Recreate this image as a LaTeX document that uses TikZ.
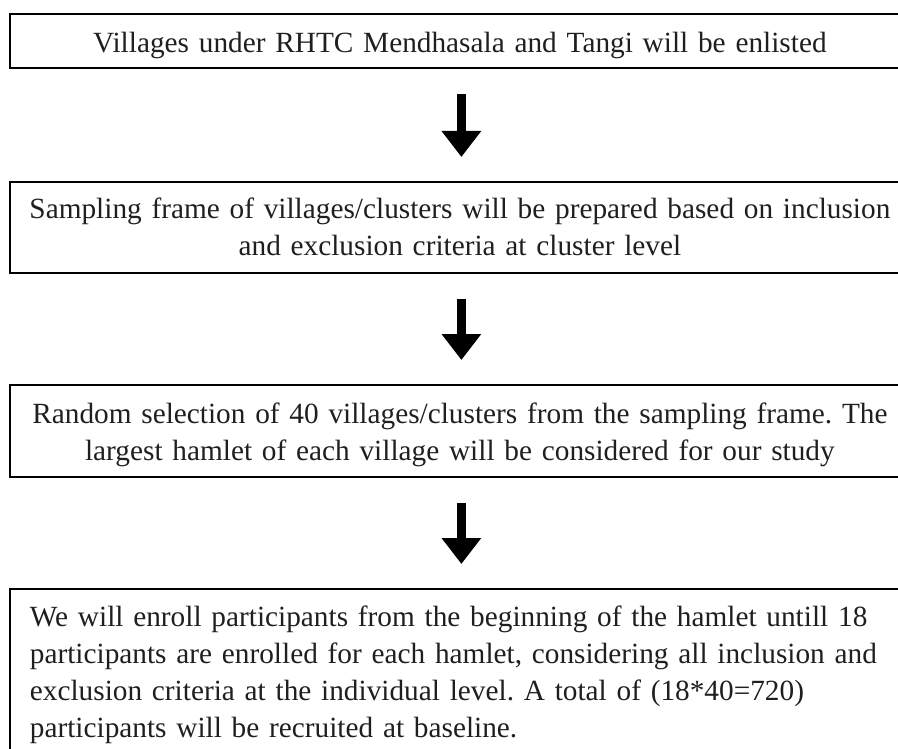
\documentclass[tikz,border=0pt]{standalone}
\usepackage{fontspec}
\setmainfont{Liberation Serif}
\usetikzlibrary{arrows.meta}
\frenchspacing
\begin{document}
\begin{tikzpicture}[x=1pt,y=-1pt,
  box/.style={draw=black, line width=1.8pt, inner xsep=10pt, inner ysep=0pt,
    text width=880pt, anchor=north west, text=black!88,
    font=\fontsize{29.3pt}{37pt}\selectfont},
  flow/.style={line width=9pt, -{Triangle[width=38pt,length=26pt]},
    shorten <=25pt, shorten >=24pt}]
\useasboundingbox (0,0) rectangle (898,749);
\clip (0,0) rectangle (898,749);
\node[box, align=center, text height=39pt, text depth=15pt] (b1) at (9,13)
  {Villages under RHTC Mendhasala and Tangi will be enlisted};
\node[box, align=center, text height=37pt, text depth=54pt] (b2) at (9,181)
  {Sampling frame of villages/clusters will be prepared based on inclusion\\
   and exclusion criteria at cluster level};
\node[box, align=center, text height=39pt, text depth=53pt] (b3) at (9,384)
  {Random selection of 40 villages/clusters from the sampling frame. The\\
   largest hamlet of each village will be considered for our study};
\node[box, align=left, inner xsep=20pt, text height=38pt, text depth=150pt] (b4) at (9,588)
  {We will enroll participants from the beginning of the hamlet untill 18\\
   participants are enrolled for each hamlet, considering all inclusion and\\
   exclusion criteria at the individual level. A total of (18*40=720)\\
   participants will be recruited at baseline.};
\draw[flow] ([xshift=1.5pt]b1.south) -- ([xshift=1.5pt]b1.south |- b2.north);
\draw[flow] ([xshift=1.5pt]b2.south) -- ([xshift=1.5pt]b2.south |- b3.north);
\draw[flow] ([xshift=1.5pt]b3.south) -- ([xshift=1.5pt]b3.south |- b4.north);
\end{tikzpicture}
\end{document}
